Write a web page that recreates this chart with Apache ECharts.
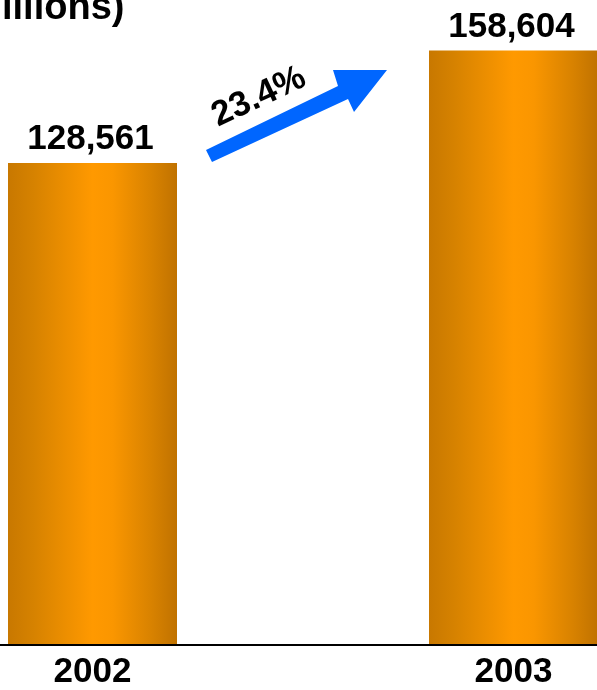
<!DOCTYPE html>
<html>
<head>
<meta charset="utf-8">
<script src="https://cdn.jsdelivr.net/npm/echarts@6/dist/echarts.min.js"></script>
<style>
  html, body { margin: 0; padding: 0; background: #fff; }
  #chart { width: 597px; height: 690px; }
</style>
</head>
<body>
<div id="chart"></div>
<script>
var categories = ['2002', '2003'];
var values = [128561, 158604];
var titleText = 'illions)';
var growthText = '23.4%';

var FONT = '"Liberation Sans", Arial, sans-serif';

var barGradient = {
  type: 'linear', x: 0, y: 0, x2: 1, y2: 0,
  colorStops: [
    { offset: 0, color: '#c87800' },
    { offset: 0.15, color: '#d68200' },
    { offset: 0.5, color: '#ff9900' },
    { offset: 0.62, color: '#fa9600' },
    { offset: 0.85, color: '#d88200' },
    { offset: 1, color: '#c07200' }
  ]
};

var chart = echarts.init(document.getElementById('chart'), null, { renderer: 'canvas' });

chart.setOption({
  animation: false,
  backgroundColor: '#ffffff',
  title: {
    text: titleText,
    left: 2,
    top: -10,
    padding: 0,
    textStyle: { fontFamily: FONT, fontWeight: 'bold', fontSize: 38, color: '#000' }
  },
  grid: [
    { left: 92.5, right: 83.5, top: 0, bottom: 45, containLabel: false },
    { left: 0, right: 0, top: 0, bottom: 45, containLabel: false }
  ],
  xAxis: [
    {
      type: 'category',
      gridIndex: 0,
      data: categories,
      boundaryGap: false,
      axisLine: { show: false },
      axisTick: { show: false },
      axisLabel: {
        margin: 11,
        fontFamily: FONT, fontWeight: 'bold', fontSize: 35, color: '#000'
      }
    },
    {
      type: 'value',
      gridIndex: 1,
      min: 0, max: 1,
      axisLine: { show: true, onZero: false, lineStyle: { color: '#000', width: 2 } },
      axisTick: { show: false },
      axisLabel: { show: false },
      splitLine: { show: false }
    }
  ],
  yAxis: [
    { type: 'value', gridIndex: 0, min: 0, max: 172130, show: false, splitLine: { show: false } },
    { type: 'value', gridIndex: 1, min: 0, max: 1, show: false, splitLine: { show: false } }
  ],
  series: [{
    type: 'bar',
    xAxisIndex: 0,
    yAxisIndex: 0,
    data: values,
    barWidth: 169,
    clip: false,
    itemStyle: { color: barGradient },
    label: {
      show: true,
      position: 'top',
      distance: 6,
      offset: [-2, 0],
      fontFamily: FONT, fontWeight: 'bold', fontSize: 35, color: '#000',
      formatter: function (p) { return p.value.toLocaleString('en-US'); }
    }
  }],
  graphic: [
    {
      type: 'polygon',
      shape: {
        points: [[206, 150], [338, 86], [333, 70], [387, 70], [354, 112], [348, 99], [212, 162]]
      },
      style: { fill: '#0066ff' }
    },
    {
      type: 'text',
      x: 259,
      y: 97,
      rotation: 25 * Math.PI / 180,
      style: {
        text: growthText,
        font: 'bold 35px ' + FONT,
        fill: '#000',
        textAlign: 'center',
        textVerticalAlign: 'middle',
        align: 'center',
        verticalAlign: 'middle'
      }
    }
  ]
});
</script>
</body>
</html>
